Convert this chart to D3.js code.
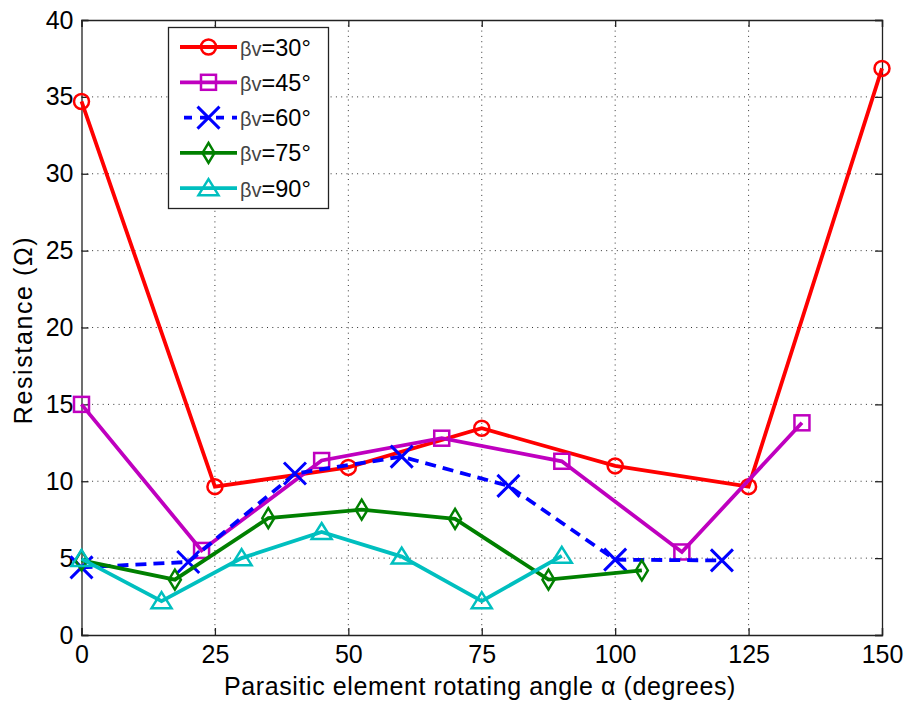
<!DOCTYPE html>
<html><head><meta charset="utf-8">
<script src="https://cdn.jsdelivr.net/npm/d3@7"></script>
<style>body{margin:0;background:#fff;} svg{display:block;font-family:"Liberation Sans",Arial,sans-serif;}</style>
</head><body>
<svg id="chart" width="907" height="704"></svg>
<script>
const xTicks = [0, 25, 50, 75, 100, 125, 150];
const yTicks = [0, 5, 10, 15, 20, 25, 30, 35, 40];
const seriesNames = ["βv=30°", "βv=45°", "βv=60°", "βv=75°", "βv=90°"];
const seriesColors = ["#ff0000", "#bf00bf", "#0000ff", "#008000", "#00bfbf"];
const seriesMarkers = ["circle", "square", "x", "diamond", "triangle"];
const seriesDash = [null, null, "11,7", null, null];
const x30 = [0, 25, 50, 75, 100, 125, 150];
const y30 = [34.7, 9.65, 10.9, 13.45, 11.0, 9.65, 36.85];
const x45 = [0, 22.5, 45, 67.5, 90, 112.5, 135];
const y45 = [15.0, 5.5, 11.35, 12.8, 11.3, 5.4, 13.8];
const x60 = [0, 20, 40, 60, 80, 100, 120];
const y60 = [4.4, 4.75, 10.5, 11.6, 9.7, 4.9, 4.85];
const x75 = [0, 17.5, 35, 52.5, 70, 87.5, 105];
const y75 = [4.85, 3.6, 7.6, 8.15, 7.55, 3.6, 4.2];
const x90 = [0, 15, 30, 45, 60, 75, 90];
const y90 = [4.95, 2.2, 5.0, 6.7, 5.1, 2.2, 5.15];

const xs = [x30, x45, x60, x75, x90];
const ys = [y30, y45, y60, y75, y90];

const svg = d3.select("#chart");
const L = 81.5, R = 882, T = 20, B = 635;
const x = d3.scaleLinear().domain([0, 150]).range([L, R]);
const y = d3.scaleLinear().domain([0, 40]).range([B, T]);

// grid
const g = svg.append("g");
g.selectAll(".gx").data(xTicks.slice(1, -1)).enter().append("line")
  .attr("x1", d => x(d)).attr("x2", d => x(d)).attr("y1", T).attr("y2", B)
  .attr("stroke", "#333").attr("stroke-width", 1).attr("stroke-dasharray", "1,4.3");
g.selectAll(".gy").data(yTicks.slice(1, -1)).enter().append("line")
  .attr("y1", d => y(d)).attr("y2", d => y(d)).attr("x1", L).attr("x2", R)
  .attr("stroke", "#333").attr("stroke-width", 1).attr("stroke-dasharray", "1,4.3");

// axes
const axB = d3.axisBottom(x).tickValues(xTicks).tickSize(-7).tickPadding(10).tickFormat(d3.format("d"));
const axT = d3.axisTop(x).tickValues(xTicks).tickSize(-7).tickFormat("");
const axL = d3.axisLeft(y).tickValues(yTicks).tickSize(-7).tickPadding(8).tickFormat(d3.format("d"));
const axR = d3.axisRight(y).tickValues(yTicks).tickSize(-7).tickFormat("");
function styleAx(sel) {
  sel.selectAll("path").attr("stroke", "#222").attr("stroke-width", 1.3);
  sel.selectAll("line").attr("stroke", "#222").attr("stroke-width", 1.3);
  sel.selectAll("text").attr("fill", "#000").style("font-size", "25px").style("font-family", "Liberation Sans, Arial, sans-serif");
}
svg.append("g").attr("transform", `translate(0,${B})`).call(axB).call(styleAx);
svg.append("g").attr("transform", `translate(0,${T})`).call(axT).call(styleAx);
svg.append("g").attr("transform", `translate(${L},0)`).call(axL).call(styleAx);
svg.append("g").attr("transform", `translate(${R},0)`).call(axR).call(styleAx);

// labels
svg.append("text").attr("x", 480).attr("y", 695).attr("text-anchor", "middle")
  .style("font-size", "25px").style("letter-spacing", "0.6px").text("Parasitic element rotating angle α (degrees)");
svg.append("text").attr("transform", `translate(32,330) rotate(-90)`).attr("text-anchor", "middle")
  .style("font-size", "25px").style("letter-spacing", "1.6px").text("Resistance (Ω)");

function marker(sel, type, color) {
  const s = 7.5;
  if (type === "circle") sel.append("circle").attr("r", s).attr("fill", "none").attr("stroke", color).attr("stroke-width", 2.5);
  else if (type === "square") sel.append("rect").attr("x", -s).attr("y", -s).attr("width", 2 * s).attr("height", 2 * s).attr("fill", "none").attr("stroke", color).attr("stroke-width", 2.5);
  else if (type === "x") sel.append("path").attr("d", "M-11,-11L11,11M-11,11L11,-11").attr("stroke", color).attr("stroke-width", 3).attr("fill", "none");
  else if (type === "diamond") sel.append("path").attr("d", "M0,-10L6,0L0,10L-6,0Z").attr("fill", "none").attr("stroke", color).attr("stroke-width", 2.5);
  else if (type === "triangle") sel.append("path").attr("d", "M0,-9L10,7L-10,7Z").attr("fill", "none").attr("stroke", color).attr("stroke-width", 2.5);
}

const line = d3.line().x(d => x(d[0])).y(d => y(d[1]));
seriesNames.forEach((name, i) => {
  const pts = xs[i].map((v, j) => [v, ys[i][j]]);
  const gs = svg.append("g");
  gs.append("path").datum(pts).attr("d", line).attr("fill", "none")
    .attr("stroke", seriesColors[i]).attr("stroke-width", 3.8)
    .attr("stroke-dasharray", seriesDash[i]);
  pts.forEach(p => {
    const m = gs.append("g").attr("transform", `translate(${x(p[0])},${y(p[1])})`);
    marker(m, seriesMarkers[i], seriesColors[i]);
  });
});

// legend
const lg = svg.append("g");
lg.append("rect").attr("x", 168.5).attr("y", 27.5).attr("width", 160).attr("height", 181)
  .attr("fill", "#fff").attr("stroke", "#222").attr("stroke-width", 1.3);
seriesNames.forEach((name, i) => {
  const yy = 47 + i * 35.3;
  lg.append("line").attr("x1", 180).attr("x2", 237).attr("y1", yy).attr("y2", yy)
    .attr("stroke", seriesColors[i]).attr("stroke-width", 3.8).attr("stroke-dasharray", seriesDash[i] ? "8,8" : null)
    .attr("stroke-dashoffset", seriesDash[i] ? -4 : null);
  const m = lg.append("g").attr("transform", `translate(208.5,${yy})`);
  marker(m, seriesMarkers[i], seriesColors[i]);
  const t = lg.append("text").attr("x", 240).attr("y", yy + 8.5).style("font-size", "23.5px");
  t.append("tspan").style("font-size", "20px").attr("fill", "#444").text(name.slice(0, 2));
  t.append("tspan").text(name.slice(2));
});
</script>
</body></html>
